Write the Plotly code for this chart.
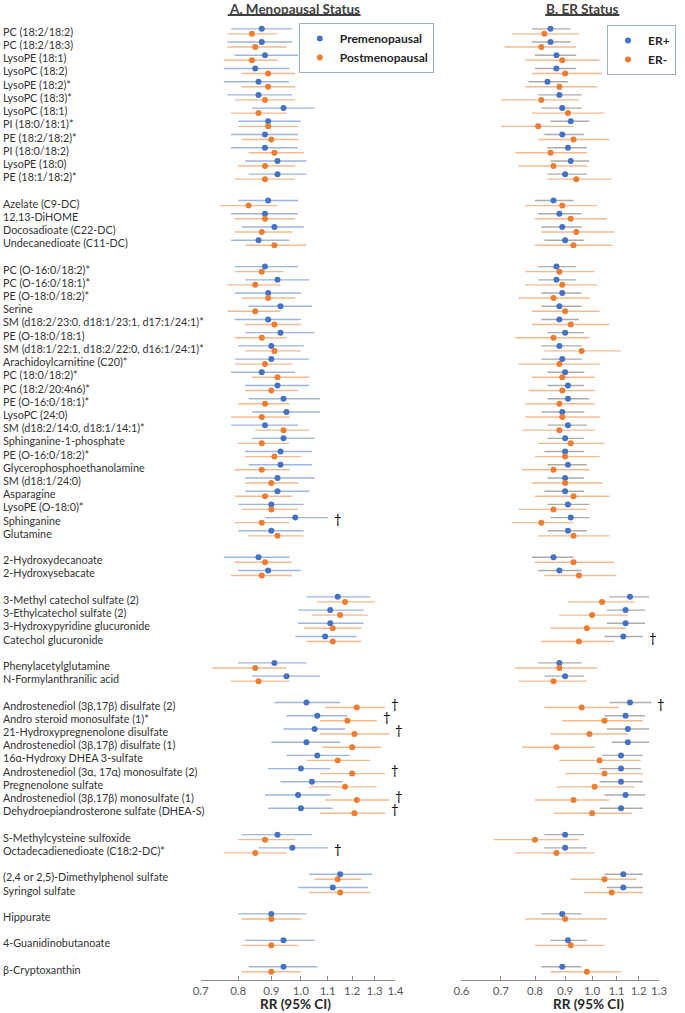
import math
import plotly.graph_objects as go

# ---------------- data ----------------
metabolites = [
    "PC (18:2/18:2)", "PC (18:2/18:3)", "LysoPE (18:1)", "LysoPC (18:2)", "LysoPE (18:2)*",
    "LysoPC (18:3)*", "LysoPC (18:1)", "PI (18:0/18:1)*", "PE (18:2/18:2)*", "PI (18:0/18:2)",
    "LysoPE (18:0)", "PE (18:1/18:2)*",
    "Azelate (C9-DC)", "12,13-DiHOME", "Docosadioate (C22-DC)", "Undecanedioate (C11-DC)",
    "PC (O-16:0/18:2)*", "PC (O-16:0/18:1)*", "PE (O-18:0/18:2)*", "Serine",
    "SM (d18:2/23:0, d18:1/23:1, d17:1/24:1)*", "PE (O-18:0/18:1)",
    "SM (d18:1/22:1, d18:2/22:0, d16:1/24:1)*", "Arachidoylcarnitine (C20)*", "PC (18:0/18:2)*",
    "PC (18:2/20:4n6)*", "PE (O-16:0/18:1)*", "LysoPC (24:0)", "SM (d18:2/14:0, d18:1/14:1)*",
    "Sphinganine-1-phosphate", "PE (O-16:0/18:2)*", "Glycerophosphoethanolamine", "SM (d18:1/24:0)",
    "Asparagine", "LysoPE (O-18:0)*", "Sphinganine", "Glutamine",
    "2-Hydroxydecanoate", "2-Hydroxysebacate",
    "3-Methyl catechol sulfate (2)", "3-Ethylcatechol sulfate (2)", "3-Hydroxypyridine glucuronide",
    "Catechol glucuronide",
    "Phenylacetylglutamine", "N-Formylanthranilic acid",
    "Androstenediol (3β,17β) disulfate (2)", "Andro steroid monosulfate (1)*",
    "21-Hydroxypregnenolone disulfate", "Androstenediol (3β,17β) disulfate (1)",
    "16α-Hydroxy DHEA 3-sulfate", "Androstenediol (3α, 17α) monosulfate (2)", "Pregnenolone sulfate",
    "Androstenediol (3β,17β) monosulfate (1)", "Dehydroepiandrosterone sulfate (DHEA-S)",
    "S-Methylcysteine sulfoxide", "Octadecadienedioate (C18:2-DC)*",
    "(2,4 or 2,5)-Dimethylphenol sulfate", "Syringol sulfate",
    "Hippurate",
    "4-Guanidinobutanoate",
    "β-Cryptoxanthin",
]
group_sizes = [12, 4, 21, 2, 4, 2, 9, 2, 2, 1, 1, 1]

# Panel A: Premenopausal
pre_rr = [0.87, 0.87, 0.88, 0.85, 0.86, 0.86, 0.94, 0.89, 0.88, 0.88, 0.92, 0.92,
          0.89, 0.88, 0.91, 0.86,
          0.88, 0.92, 0.89, 0.93, 0.89, 0.93, 0.90, 0.90, 0.87, 0.92, 0.94, 0.95, 0.88,
          0.94, 0.93, 0.93, 0.92, 0.92, 0.90, 0.98, 0.90,
          0.86, 0.89,
          1.14, 1.11, 1.11, 1.09,
          0.91, 0.95,
          1.02, 1.06, 1.05, 1.02, 1.06, 1.00, 1.04, 0.99, 1.00,
          0.92, 0.97,
          1.15, 1.12,
          0.90, 0.94, 0.94]
pre_lo = [0.78, 0.77, 0.79, 0.76, 0.76, 0.77, 0.84, 0.80, 0.78, 0.78, 0.82, 0.83,
          0.80, 0.78, 0.81, 0.78,
          0.79, 0.82, 0.79, 0.83, 0.79, 0.82, 0.80, 0.79, 0.78, 0.82, 0.83, 0.84, 0.78,
          0.84, 0.82, 0.83, 0.82, 0.82, 0.80, 0.88, 0.80,
          0.76, 0.80,
          1.02, 0.99, 0.99, 0.98,
          0.80, 0.84,
          0.91, 0.95, 0.94, 0.90, 0.95, 0.89, 0.93, 0.88, 0.89,
          0.81, 0.86,
          1.03, 0.99,
          0.80, 0.82, 0.83]
pre_hi = [0.97, 0.97, 0.99, 0.96, 0.96, 0.97, 1.05, 1.00, 0.99, 0.99, 1.02, 1.02,
          0.99, 0.99, 1.01, 0.96,
          0.99, 1.03, 1.00, 1.04, 1.00, 1.05, 1.01, 1.03, 0.98, 1.03, 1.07, 1.07, 0.99,
          1.05, 1.04, 1.04, 1.05, 1.03, 1.01, 1.10, 1.01,
          0.96, 1.00,
          1.28, 1.25, 1.25, 1.22,
          1.02, 1.07,
          1.15, 1.18, 1.17, 1.15, 1.19, 1.11, 1.16, 1.11, 1.12,
          1.04, 1.10,
          1.29, 1.27,
          1.02, 1.05, 1.06]

# Panel A: Postmenopausal
post_rr = [0.84, 0.85, 0.84, 0.89, 0.89, 0.88, 0.86, 0.89, 0.90, 0.91, 0.88, 0.88,
           0.83, 0.88, 0.87, 0.91,
           0.87, 0.85, 0.89, 0.85, 0.91, 0.87, 0.91, 0.88, 0.92, 0.90, 0.88, 0.87, 0.94,
           0.87, 0.91, 0.87, 0.90, 0.88, 0.90, 0.87, 0.92,
           0.88, 0.87,
           1.17, 1.15, 1.12, 1.12,
           0.85, 0.86,
           1.22, 1.18, 1.21, 1.20, 1.14, 1.20, 1.17, 1.22, 1.21,
           0.88, 0.85,
           1.14, 1.15,
           0.90, 0.90, 0.90]
post_lo = [0.77, 0.77, 0.76, 0.81, 0.81, 0.79, 0.78, 0.80, 0.81, 0.83, 0.80, 0.79,
           0.75, 0.79, 0.79, 0.82,
           0.79, 0.77, 0.81, 0.77, 0.82, 0.79, 0.82, 0.79, 0.84, 0.82, 0.80, 0.78, 0.85,
           0.80, 0.82, 0.79, 0.82, 0.79, 0.81, 0.79, 0.83,
           0.79, 0.78,
           1.06, 1.04, 1.01, 1.02,
           0.73, 0.78,
           1.09, 1.07, 1.07, 1.08, 1.02, 1.07, 1.03, 1.09, 1.07,
           0.80, 0.76,
           1.05, 1.03,
           0.81, 0.81, 0.81]
post_hi = [0.92, 0.95, 0.92, 0.98, 0.98, 0.98, 0.95, 0.99, 0.99, 1.01, 0.98, 0.98,
           0.92, 0.98, 0.97, 1.02,
           0.94, 0.93, 0.98, 0.93, 1.00, 0.95, 1.00, 0.97, 1.03, 0.99, 0.96, 0.96, 1.03,
           0.96, 1.00, 0.96, 0.99, 0.97, 0.99, 0.96, 1.01,
           0.97, 0.97,
           1.30, 1.27, 1.24, 1.24,
           0.95, 0.96,
           1.35, 1.31, 1.37, 1.33, 1.28, 1.35, 1.31, 1.37, 1.35,
           0.98, 0.95,
           1.24, 1.28,
           1.00, 0.99, 1.00]

# Panel B: ER+
erp_rr = [0.85, 0.85, 0.87, 0.87, 0.84, 0.88, 0.89, 0.92, 0.89, 0.91, 0.92, 0.90,
          0.86, 0.88, 0.89, 0.90,
          0.87, 0.87, 0.89, 0.88, 0.88, 0.90, 0.88, 0.89, 0.90, 0.91, 0.91, 0.89, 0.91,
          0.90, 0.90, 0.91, 0.90, 0.90, 0.91, 0.92, 0.91,
          0.86, 0.88,
          1.16, 1.14, 1.14, 1.13,
          0.88, 0.90,
          1.16, 1.14, 1.15, 1.15, 1.12, 1.12, 1.12, 1.14, 1.12,
          0.90, 0.90,
          1.13, 1.13,
          0.89, 0.91, 0.89]
erp_lo = [0.79, 0.79, 0.80, 0.80, 0.78, 0.81, 0.82, 0.85, 0.83, 0.84, 0.85, 0.84,
          0.80, 0.81, 0.82, 0.83,
          0.81, 0.81, 0.82, 0.82, 0.82, 0.84, 0.82, 0.82, 0.84, 0.84, 0.84, 0.82, 0.84,
          0.84, 0.83, 0.84, 0.84, 0.83, 0.84, 0.85, 0.84,
          0.79, 0.81,
          1.07, 1.06, 1.06, 1.05,
          0.81, 0.83,
          1.07, 1.05, 1.06, 1.08, 1.04, 1.03, 1.03, 1.05, 1.03,
          0.83, 0.83,
          1.05, 1.06,
          0.82, 0.85, 0.82]
erp_hi = [0.92, 0.92, 0.94, 0.94, 0.91, 0.96, 0.96, 0.99, 0.97, 0.98, 0.99, 0.98,
          0.93, 0.96, 0.96, 0.97,
          0.94, 0.94, 0.96, 0.96, 0.95, 0.97, 0.96, 0.96, 0.97, 0.97, 0.99, 0.97, 0.98,
          0.97, 0.97, 0.98, 0.97, 0.97, 0.99, 0.99, 0.98,
          0.93, 0.96,
          1.25, 1.23, 1.23, 1.22,
          0.96, 0.97,
          1.26, 1.23, 1.25, 1.25, 1.22, 1.21, 1.22, 1.23, 1.22,
          0.97, 0.98,
          1.22, 1.22,
          0.96, 0.98, 0.96]

# Panel B: ER-
ern_rr = [0.83, 0.82, 0.89, 0.90, 0.88, 0.82, 0.91, 0.81, 0.93, 0.85, 0.86, 0.94,
          0.89, 0.92, 0.94, 0.93,
          0.88, 0.89, 0.86, 0.90, 0.92, 0.86, 0.96, 0.88, 0.89, 0.89, 0.88, 0.89, 0.88,
          0.92, 0.90, 0.86, 0.90, 0.93, 0.86, 0.82, 0.93,
          0.93, 0.95,
          1.04, 1.00, 0.98, 0.95,
          0.88, 0.86,
          0.96, 1.05, 0.99, 0.87, 1.03, 1.05, 1.01, 0.93, 1.00,
          0.80, 0.87,
          1.05, 1.08,
          0.90, 0.92, 0.98]
ern_lo = [0.73, 0.71, 0.77, 0.79, 0.77, 0.70, 0.79, 0.70, 0.81, 0.74, 0.75, 0.84,
          0.77, 0.80, 0.82, 0.80,
          0.77, 0.77, 0.75, 0.79, 0.79, 0.74, 0.83, 0.75, 0.79, 0.78, 0.77, 0.77, 0.76,
          0.81, 0.80, 0.76, 0.79, 0.80, 0.75, 0.73, 0.81,
          0.80, 0.83,
          0.91, 0.88, 0.85, 0.82,
          0.74, 0.75,
          0.83, 0.89, 0.85, 0.76, 0.88, 0.90, 0.87, 0.80, 0.86,
          0.68, 0.74,
          0.92, 0.97,
          0.77, 0.80, 0.85]
ern_hi = [0.95, 0.94, 1.03, 1.04, 1.02, 0.95, 1.05, 0.93, 1.07, 0.98, 0.98, 1.08,
          1.02, 1.06, 1.09, 1.08,
          1.01, 1.02, 0.99, 1.03, 1.07, 0.99, 1.12, 1.03, 1.01, 1.01, 1.01, 1.03, 1.01,
          1.05, 1.03, 0.99, 1.04, 1.07, 0.98, 0.93, 1.07,
          1.09, 1.10,
          1.18, 1.15, 1.14, 1.09,
          1.02, 0.98,
          1.11, 1.22, 1.15, 1.01, 1.21, 1.22, 1.18, 1.07, 1.17,
          0.95, 1.01,
          1.19, 1.22,
          1.06, 1.05, 1.12]

sig_A = ["Sphinganine", "Androstenediol (3β,17β) disulfate (2)", "Andro steroid monosulfate (1)*",
         "21-Hydroxypregnenolone disulfate", "Androstenediol (3α, 17α) monosulfate (2)",
         "Androstenediol (3β,17β) monosulfate (1)", "Dehydroepiandrosterone sulfate (DHEA-S)",
         "Octadecadienedioate (C18:2-DC)*"]
sig_B = ["Catechol glucuronide", "Androstenediol (3β,17β) disulfate (2)"]

ticks_A = [0.7, 0.8, 0.9, 1.0, 1.1, 1.2, 1.3, 1.4]
ticks_B = [0.6, 0.7, 0.8, 0.9, 1.0, 1.1, 1.2, 1.3]

# ---------------- layout helpers ----------------
W, H = 685, 1013
rows = []
r = 0
for g in group_sizes:
    for _ in range(g):
        rows.append(r)
        r += 1
    r += 1

PITCH = 13.21
MID0 = 31.35
TOP_PX, BOT_PX = 15, 980
y_top = (TOP_PX - MID0) / PITCH
y_bot = (BOT_PX - MID0) / PITCH
dom_y = [1 - BOT_PX / H, 1 - TOP_PX / H]
dom_A = [197.3 / W, 396.7 / W]
dom_B = [464.3 / W, 666.7 / W]
OFF = 0.19

BLUE, ORANGE = "#4472C4", "#ED7D31"
FONT = "Lato, 'Open Sans', sans-serif"

fig = go.Figure()


def add_series(est, lo, hi, dy, name, mcol, ecol, xaxis, legend):
    fig.add_trace(go.Scatter(
        x=est, y=[rr + dy for rr in rows], mode="markers", name=name,
        xaxis=xaxis, yaxis="y", legend=legend,
        marker=dict(color=mcol, size=6),
        error_x=dict(type="data", symmetric=False,
                     array=[h - e for h, e in zip(hi, est)],
                     arrayminus=[e - l for e, l in zip(est, lo)],
                     color=ecol, thickness=1.4, width=0),
        hovertemplate="%{x}<extra>" + name + "</extra>",
    ))


add_series(pre_rr, pre_lo, pre_hi, -OFF, "Premenopausal", BLUE, "#9DB5E2", "x", "legend")
add_series(post_rr, post_lo, post_hi, OFF, "Postmenopausal", ORANGE, "#F5B98E", "x", "legend")
add_series(erp_rr, erp_lo, erp_hi, -OFF, "ER+", BLUE, "#ABABAB", "x2", "legend2")
add_series(ern_rr, ern_lo, ern_hi, OFF, "ER-", ORANGE, "#F5B98E", "x2", "legend2")

axis_common = dict(type="log", showgrid=False, zeroline=False, showline=True,
                   linecolor="#8C8C8C", linewidth=1, ticks="inside", ticklen=4,
                   tickcolor="#8C8C8C", tickfont=dict(family=FONT, size=11.5, color="#595959"),
                   anchor="y")
fig.update_layout(
    width=W, height=H, margin=dict(l=0, r=0, t=0, b=0),
    paper_bgcolor="white", plot_bgcolor="white",
    xaxis=dict(domain=dom_A, range=[math.log10(0.7), math.log10(1.4)],
               tickvals=ticks_A, ticktext=[f"{t:.1f}" for t in ticks_A], **axis_common),
    xaxis2=dict(domain=dom_B, range=[math.log10(0.6), math.log10(1.3)],
                tickvals=ticks_B, ticktext=[f"{t:.1f}" for t in ticks_B], **axis_common),
    yaxis=dict(domain=dom_y, range=[y_bot, y_top], visible=False),
    legend=dict(x=436 / W, y=1 - 23 / H, xanchor="right", yanchor="top",
                bgcolor="white", bordercolor="#9DB0C8", borderwidth=1,
                font=dict(family=FONT, size=12, color="#262626", weight="bold"),
                traceorder="normal"),
    legend2=dict(x=684 / W, y=1 - 25 / H, xanchor="right", yanchor="top",
                 bgcolor="white", bordercolor="#9DB0C8", borderwidth=1,
                 font=dict(family=FONT, size=12, color="#262626", weight="bold"),
                 traceorder="normal"),
    showlegend=True,
)

# reference lines at RR = 1
for xr in ["x", "x2"]:
    fig.add_shape(type="line", xref=xr, yref="paper", x0=0, x1=0,
                  y0=dom_y[0], y1=dom_y[1], line=dict(color="#595959", width=1.5))

# row labels
for name, rr in zip(metabolites, rows):
    fig.add_annotation(text=name, xref="paper", yref="y", x=0, y=rr, xshift=-6,
                       xanchor="left", yanchor="middle", showarrow=False, borderpad=0,
                       font=dict(family=FONT, size=10.8, color="#333333"))

# significance daggers
def add_daggers(sig, his, xr):
    for name in sig:
        i = metabolites.index(name)
        top = max(h[i] for h in his)
        fig.add_annotation(text="†", xref=xr, yref="y", x=math.log10(top), y=rows[i] - 0.1,
                           xanchor="center", yanchor="middle", xshift=10, showarrow=False,
                           font=dict(family=FONT, size=13, color="black"))


add_daggers(sig_A, [pre_hi, post_hi], "x")
add_daggers(sig_B, [erp_hi, ern_hi], "x2")

# panel titles with underline
for txt, cx, u0, u1 in [("A. Menopausal Status", 293, 225, 361), ("B. ER Status", 588, 550, 626)]:
    fig.add_annotation(text=f"<b>{txt}</b>", xref="paper", yref="paper", x=cx / W, y=1,
                       xanchor="center", yanchor="top", showarrow=False, borderpad=0,
                       font=dict(family=FONT, size=13.5, color="#404040"))
    fig.add_shape(type="line", xref="paper", yref="paper", x0=u0 / W, x1=u1 / W,
                  y0=1 - 15 / H, y1=1 - 15 / H, line=dict(color="#404040", width=2))

# axis titles
for cx in [294, 594.5]:
    fig.add_annotation(text="<b>RR (95% CI)</b>", xref="paper", yref="paper", x=cx / W,
                       y=1 - 1004 / H, xanchor="center", yanchor="middle", showarrow=False,
                       font=dict(family=FONT, size=13.5, color="#262626"))

fig.write_html("out.html", config={"displayModeBar": False},
               post_script="document.body.style.margin='0';document.body.style.overflow='hidden';")
